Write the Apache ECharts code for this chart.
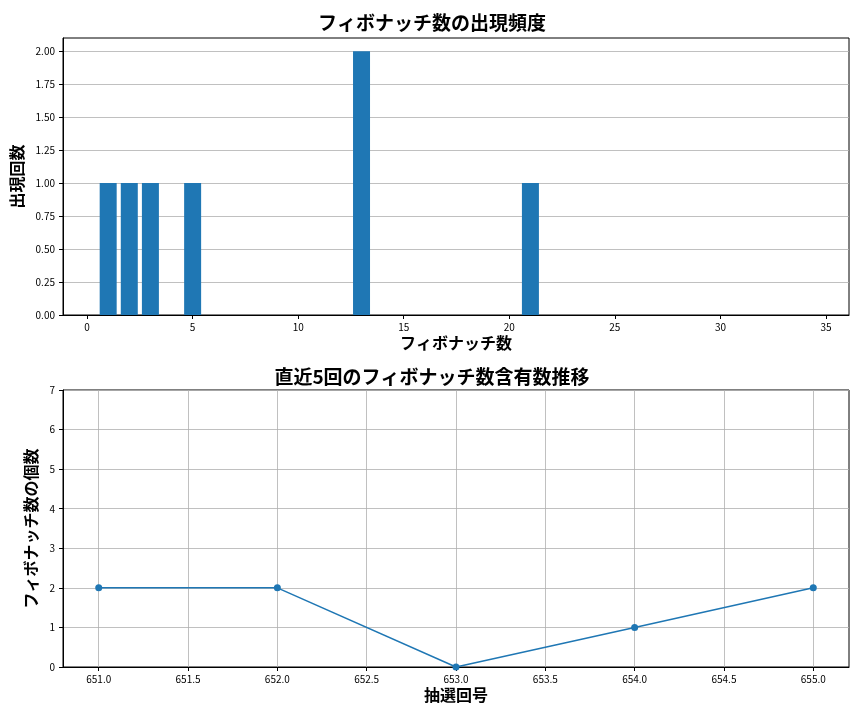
<!DOCTYPE html>
<html><head><meta charset="utf-8">
<script src="https://cdn.jsdelivr.net/npm/echarts@6/dist/echarts.min.js"></script>
<style>html,body{margin:0;padding:0;background:#fff}#c{width:864px;height:720px}</style>
</head><body><div id="c"></div>
<script>
const fibNumbers = [1, 2, 3, 5, 13, 21];
const fibCounts = [1, 1, 1, 1, 2, 1];
const topXTicks = [0, 5, 10, 15, 20, 25, 30, 35];
const topYTicks = [0, 0.25, 0.5, 0.75, 1, 1.25, 1.5, 1.75, 2];
const drawNos = [651, 652, 653, 654, 655];
const fibPerDraw = [2, 2, 0, 1, 2];
const botXTicks = [651, 651.5, 652, 652.5, 653, 653.5, 654, 654.5, 655];
const botYTicks = [0, 1, 2, 3, 4, 5, 6, 7];

const F = '"Noto Sans CJK JP", "Noto Sans", sans-serif';
const C = '#1f77b4';
const lbl = {color:'#000', fontSize:10, fontFamily:F};
const nameStyle = {fontFamily:F, fontSize:16, fontWeight:'bold', color:'#000'};
const axLine = {show:true, onZero:false, lineStyle:{color:'#000', width:1}};
const tick = (vals)=>({show:true, customValues:vals, length:4, lineStyle:{color:'#000'}});
const split = {show:true, lineStyle:{color:'#b0b0b0', width:0.8}};
const chart = echarts.init(document.getElementById('c'));
chart.setOption({
  animation:false,
  title:[
    {text:'フィボナッチ数の出現頻度', left:'center', top:8, textStyle:{fontFamily:F, fontSize:19, fontWeight:'bold', color:'#000'}},
    {text:'直近5回のフィボナッチ数含有数推移', left:'center', top:362, textStyle:{fontFamily:F, fontSize:19, fontWeight:'bold', color:'#000'}}
  ],
  grid:[
    {left:63, right:15, top:38, height:277, show:true, borderColor:'#000', borderWidth:1},
    {left:63, right:15, top:390, height:277, show:true, borderColor:'#000', borderWidth:1}
  ],
  xAxis:[
    {type:'value', gridIndex:0, min:-1.14, max:36.09, name:'フィボナッチ数', nameLocation:'middle', nameGap:20,
     nameTextStyle:nameStyle,
     axisLine:axLine, axisTick:tick(topXTicks), splitLine:{show:false},
     axisLabel:Object.assign({customValues:topXTicks, margin:7}, lbl)},
    {type:'value', gridIndex:1, min:650.8, max:655.2, name:'抽選回号', nameLocation:'middle', nameGap:20,
     nameTextStyle:nameStyle,
     axisLine:axLine, axisTick:tick(botXTicks),
     splitLine:Object.assign({customValues:botXTicks}, split),
     axisLabel:Object.assign({customValues:botXTicks, margin:7, formatter:v=>v.toFixed(1)}, lbl)}
  ],
  yAxis:[
    {type:'value', gridIndex:0, min:0, max:2.1, name:'出現回数', nameLocation:'middle', nameGap:36,
     nameTextStyle:nameStyle,
     axisLine:axLine, axisTick:tick(topYTicks),
     splitLine:Object.assign({customValues:topYTicks}, split),
     axisLabel:Object.assign({customValues:topYTicks, formatter:v=>v.toFixed(2)}, lbl)},
    {type:'value', gridIndex:1, min:0, max:7, interval:1, name:'フィボナッチ数の個数', nameLocation:'middle', nameGap:22,
     nameTextStyle:nameStyle,
     axisLine:axLine, axisTick:tick(botYTicks), splitLine:split,
     axisLabel:lbl}
  ],
  series:[
    {type:'bar', xAxisIndex:0, yAxisIndex:0, barWidth:17, itemStyle:{color:C},
     data:fibNumbers.map((x,i)=>[x, fibCounts[i]])},
    {type:'line', xAxisIndex:1, yAxisIndex:1, symbol:'circle', symbolSize:7,
     lineStyle:{color:C, width:1.5}, itemStyle:{color:C},
     data:drawNos.map((x,i)=>[x, fibPerDraw[i]])}
  ]
});
</script></body></html>
